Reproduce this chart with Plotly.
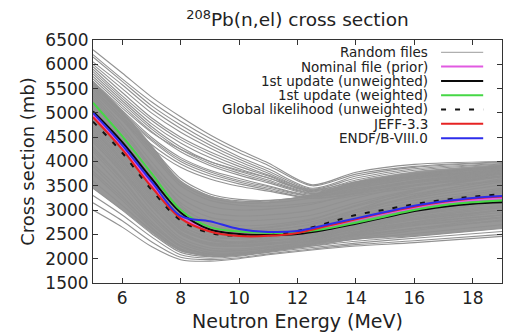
import plotly.graph_objects as go

# ---------------- data ----------------
energy_fine = [5, 6, 7, 8, 9, 10, 11, 12, 13, 14, 15, 16, 17, 18, 19]
energy_rand = [5, 6, 7, 8, 9, 10, 11, 12.5, 14, 16, 19]

# dense core of the random-file bundle (lower / upper edge)
band_core_lower = [3450, 3000, 2530, 2150, 2070, 2100, 2180, 2290, 2390, 2460, 2620]
band_core_upper = [5650, 5050, 4350, 3600, 3300, 3180, 3180, 3330, 3600, 3800, 3950]

random_files = [
    # high group
    [6300, 5820, 5330, 4920, 4550, 4240, 3970, 3520, 3780, 3940, 4000],
    [6200, 5700, 5230, 4830, 4480, 4180, 3920, 3500, 3740, 3900, 3990],
    [6150, 5650, 5150, 4750, 4400, 4100, 3850, 3450, 3700, 3880, 3980],
    [6050, 5580, 5080, 4680, 4340, 4050, 3800, 3430, 3660, 3850, 3960],
    [6000, 5500, 5000, 4600, 4280, 4000, 3760, 3400, 3620, 3820, 3950],
    [5950, 5420, 4900, 4500, 4200, 3950, 3720, 3420, 3580, 3700, 3820],
    [5900, 5350, 4850, 4450, 4150, 3900, 3700, 3380, 3560, 3750, 3900],
    [5850, 5300, 4780, 4380, 4080, 3850, 3660, 3370, 3530, 3720, 3880],
    [5800, 5250, 4720, 4300, 4000, 3800, 3620, 3350, 3500, 3700, 3860],
    [5750, 5200, 4670, 4250, 3960, 3760, 3590, 3340, 3480, 3670, 3830],
    [5700, 5150, 4620, 4200, 3920, 3720, 3560, 3320, 3450, 3640, 3800],
    [5650, 5100, 4600, 4250, 4000, 3820, 3660, 3400, 3550, 3680, 3800],
    [5650, 5050, 4500, 4080, 3820, 3650, 3500, 3300, 3420, 3600, 3780],
    [5600, 5020, 4460, 4040, 3790, 3610, 3480, 3290, 3400, 3580, 3760],
    [5550, 4980, 4430, 4000, 3750, 3580, 3450, 3280, 3380, 3560, 3740],
    [5500, 4900, 4350, 3950, 3700, 3540, 3420, 3250, 3350, 3520, 3700],
    [5450, 4850, 4280, 3880, 3640, 3490, 3390, 3240, 3330, 3500, 3680],
    # main band
    [5550, 4950, 4250, 3600, 3290, 3190, 3190, 3300, 3520, 3720, 3920],
    [5500, 4900, 4200, 3550, 3250, 3150, 3150, 3250, 3450, 3650, 3850],
    [5400, 4750, 4000, 3350, 3080, 3000, 3020, 3120, 3350, 3600, 3800],
    [5300, 4650, 3900, 3250, 2950, 2880, 2900, 3000, 3250, 3500, 3750],
    [5250, 4600, 3850, 3150, 2850, 2780, 2800, 2900, 3150, 3420, 3700],
    [5150, 4500, 3750, 3050, 2760, 2680, 2700, 2820, 3080, 3330, 3620],
    [5100, 4450, 3700, 3000, 2700, 2620, 2640, 2760, 3000, 3250, 3520],
    [5050, 4400, 3650, 2950, 2650, 2580, 2600, 2700, 2950, 3200, 3450],
    [5050, 4380, 3600, 2900, 2600, 2520, 2540, 2650, 2900, 3150, 3420],
    [4900, 4250, 3500, 2850, 2560, 2480, 2490, 2580, 2830, 3080, 3350],
    [4850, 4200, 3450, 2800, 2520, 2450, 2460, 2560, 2780, 3000, 3250],
    [4800, 4150, 3400, 2750, 2480, 2410, 2430, 2520, 2740, 2960, 3180],
    [4700, 4050, 3300, 2650, 2400, 2340, 2370, 2480, 2700, 2920, 3150],
    [4650, 4000, 3250, 2620, 2380, 2330, 2360, 2460, 2680, 2900, 3100],
    [4550, 3900, 3150, 2550, 2320, 2280, 2320, 2430, 2650, 2860, 3080],
    [4500, 3850, 3100, 2500, 2280, 2250, 2290, 2400, 2620, 2830, 3050],
    [4400, 3750, 3000, 2430, 2220, 2200, 2250, 2370, 2590, 2800, 3000],
    [4300, 3650, 2920, 2380, 2180, 2170, 2220, 2350, 2560, 2760, 2950],
    [4250, 3620, 2900, 2360, 2170, 2160, 2230, 2380, 2650, 2900, 3200],
    [4200, 3550, 2850, 2320, 2130, 2130, 2190, 2320, 2530, 2720, 2900],
    [4100, 3450, 2770, 2270, 2090, 2100, 2170, 2300, 2500, 2680, 2850],
    [3950, 3380, 2720, 2250, 2090, 2100, 2180, 2320, 2480, 2620, 2780],
    [4600, 3950, 3200, 2600, 2380, 2350, 2420, 2600, 2950, 3300, 3650],
    [4400, 3780, 3080, 2520, 2330, 2320, 2400, 2620, 3000, 3380, 3750],
    [5200, 4520, 3720, 2980, 2640, 2520, 2480, 2500, 2650, 2820, 3000],
    [5350, 4680, 3880, 3100, 2720, 2560, 2500, 2480, 2600, 2750, 2900],
    [5000, 4350, 3580, 2880, 2560, 2440, 2400, 2420, 2550, 2700, 2850],
    [4750, 4100, 3350, 2700, 2420, 2330, 2320, 2360, 2480, 2620, 2780],
    [3900, 3300, 2650, 2200, 2050, 2070, 2150, 2300, 2520, 2750, 3000],
    [4950, 4300, 3550, 2900, 2650, 2600, 2650, 2800, 3100, 3400, 3700],
    [5450, 4850, 4150, 3500, 3200, 3100, 3080, 3150, 3300, 3450, 3600],
    [5600, 5000, 4300, 3650, 3330, 3220, 3200, 3300, 3500, 3700, 3900],
    [4850, 4230, 3500, 2870, 2600, 2540, 2580, 2720, 3000, 3280, 3580],
    [4450, 3820, 3100, 2520, 2300, 2260, 2300, 2420, 2650, 2900, 3200],
    [5150, 4480, 3700, 2980, 2640, 2530, 2530, 2620, 2870, 3120, 3380],
    [4650, 4020, 3300, 2680, 2450, 2410, 2450, 2580, 2850, 3120, 3420],
    # low group
    [3000, 2650, 2250, 1980, 1950, 2000, 2080, 2180, 2260, 2330, 2460],
    [3150, 2780, 2350, 2030, 1980, 2020, 2100, 2200, 2290, 2370, 2500],
    [3300, 2900, 2450, 2080, 2010, 2050, 2130, 2230, 2320, 2420, 2560],
    [3450, 3000, 2520, 2130, 2040, 2070, 2150, 2260, 2360, 2460, 2620],
    [3600, 3100, 2580, 2170, 2060, 2080, 2160, 2280, 2400, 2520, 2700],
    [3750, 3200, 2630, 2200, 2070, 2080, 2150, 2260, 2420, 2580, 2800],
    [3800, 3250, 2700, 2250, 2100, 2110, 2170, 2290, 2450, 2620, 2850],
]

nominal_prior = [4950, 4300, 3530, 2850, 2600, 2510, 2500, 2540, 2660, 2800, 2930, 3050, 3150, 3210, 3245]
update_unweighted = [5030, 4400, 3650, 2950, 2600, 2510, 2490, 2510, 2600, 2720, 2850, 2980, 3070, 3130, 3160]
update_weighted = [5210, 4520, 3760, 3000, 2650, 2560, 2530, 2540, 2620, 2740, 2870, 3000, 3100, 3160, 3200]
global_likelihood = [4820, 4180, 3420, 2790, 2530, 2470, 2480, 2570, 2730, 2900, 3010, 3120, 3210, 3276, 3326]
jeff33 = [4910, 4250, 3480, 2830, 2560, 2467, 2470, 2530, 2670, 2810, 2950, 3070, 3170, 3240, 3280]
endfb8 = [5000, 4340, 3590, 2880, 2770, 2610, 2550, 2570, 2700, 2830, 2960, 3090, 3180, 3250, 3290]

x_ticks = [6, 8, 10, 12, 14, 16, 18]
y_ticks = [1500, 2000, 2500, 3000, 3500, 4000, 4500, 5000, 5500, 6000, 6500]

legend_labels = ["Random files", "Nominal file (prior)", "1st update (unweighted)",
                 "1st update (weighted)", "Global likelihood (unweighted)", "JEFF-3.3", "ENDF/B-VIII.0"]

# ---------------- figure ----------------
FONT = "DejaVu Sans"
TXT = "#222222"
GRAY = "rgb(146,146,146)"

fig = go.Figure()

# dense core of the bundle
fig.add_trace(go.Scatter(x=energy_rand, y=band_core_lower, mode="lines",
                         line=dict(width=0, shape="spline", smoothing=0.8),
                         showlegend=False, hoverinfo="skip"))
fig.add_trace(go.Scatter(x=energy_rand, y=band_core_upper, mode="lines",
                         line=dict(width=0, shape="spline", smoothing=0.8),
                         fill="tonexty", fillcolor="rgb(152,152,152)",
                         showlegend=False, hoverinfo="skip"))

for curve in random_files:
    fig.add_trace(go.Scatter(x=energy_rand, y=curve, mode="lines",
                             line=dict(color=GRAY, width=1.1, shape="spline", smoothing=0.8),
                             showlegend=False, hoverinfo="skip"))

main = [
    (nominal_prior, "rgb(225,90,225)", "solid"),
    (update_unweighted, "rgb(10,10,10)", "solid"),
    (update_weighted, "rgb(70,215,70)", "solid"),
    (global_likelihood, "rgb(20,20,20)", "5px,9px"),
    (jeff33, "rgb(230,35,35)", "solid"),
    (endfb8, "rgb(45,45,235)", "solid"),
]
for vals, col, dash in main:
    fig.add_trace(go.Scatter(x=energy_fine, y=vals, mode="lines",
                             line=dict(color=col, width=2, dash=dash, shape="spline"),
                             showlegend=False, hoverinfo="skip"))

# gnuplot-style legend (text then line sample)
legend_styles = [("rgb(175,175,175)", "solid", 1.2)] + [(c, d, 2) for _, c, d in main]
row_y = [0.949, 0.8905, 0.8317, 0.773, 0.714, 0.655, 0.596]
for lab, (col, dash, w), yy in zip(legend_labels, legend_styles, row_y):
    fig.add_annotation(x=0.824, y=yy, xref="paper", yref="paper", text=lab,
                       showarrow=False, xanchor="right", yanchor="middle",
                       font=dict(family=FONT, size=13.5, color=TXT))
    fig.add_shape(type="line", xref="paper", yref="paper", x0=0.851, x1=0.954, y0=yy, y1=yy,
                  line=dict(color=col, width=w, dash=dash))

axis_common = dict(showline=True, linecolor="#333333", linewidth=1, mirror="ticks",
                   ticks="inside", ticklen=5, tickcolor="#333333", showgrid=False,
                   zeroline=False, tickfont=dict(family=FONT, size=17, color=TXT))

fig.update_layout(
    width=505, height=332,
    margin=dict(l=93, r=3, t=40, b=49),
    paper_bgcolor="white", plot_bgcolor="white",
    showlegend=False,
    title=dict(text="<sup>208</sup>Pb(n,el) cross section", x=0.5, xref="paper",
               y=1 - 20 / 332, yref="container", xanchor="center", yanchor="middle",
               font=dict(family=FONT, size=18.5, color=TXT)),
    xaxis=dict(range=[5, 19], tickvals=x_ticks, ticktext=[str(v) for v in x_ticks],
               title=dict(text="Neutron Energy (MeV)", standoff=7,
                          font=dict(family=FONT, size=19, color=TXT)), **axis_common),
    yaxis=dict(range=[1500, 6500], tickvals=y_ticks, ticktext=[str(v) for v in y_ticks],
               title=dict(text="Cross section (mb)", standoff=6,
                          font=dict(family=FONT, size=18, color=TXT)), **axis_common),
)

fig.write_html("out.html")
